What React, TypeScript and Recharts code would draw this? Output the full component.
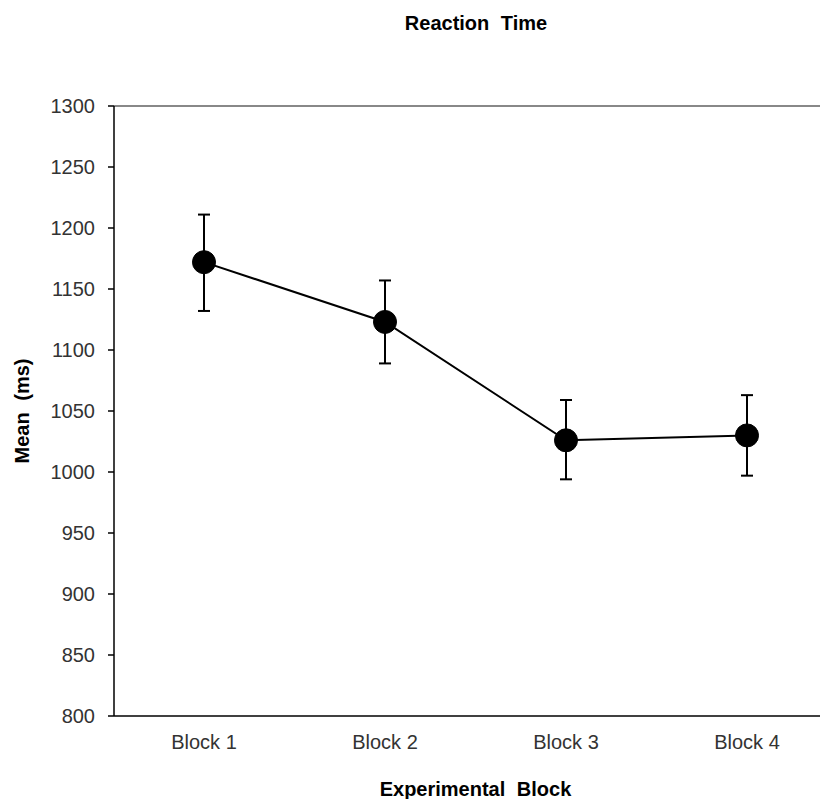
import { LineChart, Line, XAxis, YAxis, ErrorBar, ReferenceLine } from 'recharts'

const categories = ['Block 1', 'Block 2', 'Block 3', 'Block 4']
const means = [1172, 1123, 1026, 1030]
const errMinus = [40, 34, 32, 33]
const errPlus = [39, 34, 33, 33]
const yTicks = [800, 850, 900, 950, 1000, 1050, 1100, 1150, 1200, 1250, 1300]

const data = categories.map((name, i) => ({
  name,
  mean: means[i],
  err: [errMinus[i], errPlus[i]],
}))

const font = '"Liberation Sans", Arial, sans-serif'

export default function App() {
  return (
    <div style={{ position: 'relative', width: 820, height: 791, overflow: 'hidden', fontFamily: font }}>
      <div
        style={{
          position: 'absolute',
          top: 4,
          left: 318,
          width: 300,
          textAlign: 'center',
          fontWeight: 700,
          fontSize: 20,
          wordSpacing: 6,
          color: '#000',
        }}
      >
        Reaction Time
      </div>
      <LineChart
        width={840}
        height={791}
        data={data}
        margin={{ top: 98, right: 11, left: 0, bottom: 0 }}
        style={{ fontFamily: font }}
      >
        <ReferenceLine y={1300} stroke="#888" strokeWidth={2} />
        <XAxis
          dataKey="name"
          height={83}
          padding={{ left: 90, right: 90 }}
          axisLine={{ stroke: '#000', strokeWidth: 1.5 }}
          tickLine={false}
          tickSize={0}
          tickMargin={19}
          tick={{ fill: '#333', fontSize: 20 }}
          label={{
            value: 'Experimental Block',
            position: 'center',
            dy: 31,
            fontWeight: 700,
            fontSize: 20,
            fill: '#000',
            wordSpacing: 6,
          }}
        />
        <YAxis
          width={106}
          domain={[800, 1300]}
          ticks={yTicks}
          interval={0}
          axisLine={{ stroke: '#000', strokeWidth: 1.5 }}
          tickLine={{ stroke: '#000', strokeWidth: 1.5 }}
          tickSize={6}
          tickMargin={13}
          tick={{ fill: '#333', fontSize: 20 }}
          label={{
            value: 'Mean (ms)',
            angle: -90,
            position: 'center',
            dx: -39,
            fontWeight: 700,
            fontSize: 20,
            fill: '#000',
            wordSpacing: 6,
          }}
        />
        <Line
          type="linear"
          dataKey="mean"
          stroke="#000"
          strokeWidth={2}
          dot={{ r: 11.5, fill: '#000', stroke: '#000', strokeWidth: 1 }}
          activeDot={false}
          isAnimationActive={false}
        >
          <ErrorBar dataKey="err" direction="y" width={6} stroke="#000" strokeWidth={2} isAnimationActive={false} />
        </Line>
      </LineChart>
    </div>
  )
}
